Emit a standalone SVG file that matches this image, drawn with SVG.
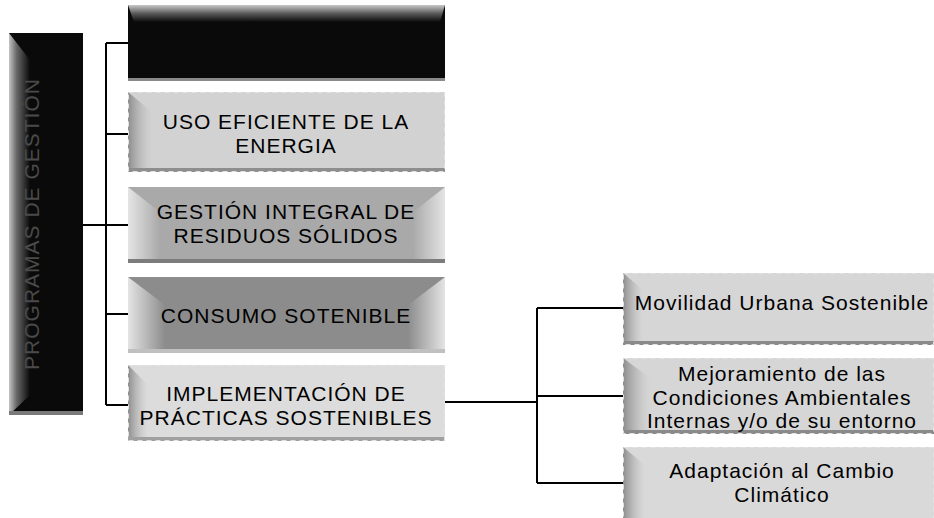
<svg xmlns="http://www.w3.org/2000/svg" width="934" height="518" viewBox="0 0 934 518">
  <defs>
    <style>
      .t { font-family: "Liberation Sans", Arial, sans-serif; font-size: 21px; letter-spacing: 1px; fill: #000; text-anchor: middle; }
      .conn { stroke: #000; stroke-width: 2; fill: none; }
      .edge { fill: none; stroke: #e2e2e2; stroke-width: 1; stroke-dasharray: 5 4; }
    </style>
    <linearGradient id="gLeftDark" x1="0" y1="0" x2="1" y2="0">
      <stop offset="0" stop-color="#c4c4c4"/>
      <stop offset="0.35" stop-color="#6a6a6a"/>
      <stop offset="1" stop-color="#0a0a0a"/>
    </linearGradient>
    <linearGradient id="gTopDark" x1="0" y1="0" x2="0" y2="1">
      <stop offset="0" stop-color="#c8c8c8"/>
      <stop offset="0.5" stop-color="#5a5a5a"/>
      <stop offset="1" stop-color="#0a0a0a"/>
    </linearGradient>
    <linearGradient id="gWedgeL" x1="0" y1="0" x2="1" y2="0">
      <stop offset="0" stop-color="#8c8c8c"/>
      <stop offset="1" stop-color="#bdbdbd" stop-opacity="0"/>
    </linearGradient>
    <linearGradient id="gWedgeLight" x1="0" y1="0" x2="1" y2="0">
      <stop offset="0" stop-color="#e4e4e4"/>
      <stop offset="1" stop-color="#e4e4e4" stop-opacity="0"/>
    </linearGradient>
    <linearGradient id="gWedgeLightR" x1="1" y1="0" x2="0" y2="0">
      <stop offset="0" stop-color="#e4e4e4"/>
      <stop offset="1" stop-color="#e4e4e4" stop-opacity="0"/>
    </linearGradient>
  </defs>

  <!-- Left vertical node -->
  <g id="node-programas">
    <rect x="9" y="33" width="74" height="382" fill="#0a0a0a"/>
    <polygon points="9,33 30,60 30,395 9,415" fill="url(#gLeftDark)"/>
    <rect x="9" y="411" width="74" height="4" fill="#7a7a7a"/>
    <text class="t" transform="translate(39,224) rotate(-90)" style="fill:#4a4a4a">PROGRAMAS DE GESTIÓN</text>
  </g>

  <!-- Top black node -->
  <g id="node-top">
    <rect x="128" y="5" width="317" height="76" fill="#0a0a0a"/>
    <polygon points="128,5 445,5 440,22 134,22" fill="url(#gTopDark)"/>
    <rect x="128" y="78" width="317" height="3" fill="#8a8a8a"/>
  </g>

  <g id="node-uso">
    <rect x="128" y="92" width="317" height="80" fill="#d2d2d2"/>
    <polygon points="128,92 152,112 152,168 128,172" fill="url(#gWedgeL)"/>
    <rect x="128" y="168" width="317" height="4" fill="#8e8e8e"/>
    <rect class="edge" x="128.5" y="92.5" width="316" height="79"/>
    <text class="t" x="286" y="129">USO EFICIENTE DE LA</text>
    <text class="t" x="286" y="152.5">ENERGIA</text>
  </g>

  <g id="node-gestion">
    <rect x="128" y="187" width="317" height="76" fill="#a9a9a9"/>
    <polygon points="128,187 160,212 160,258 128,263" fill="url(#gWedgeLight)"/>
    <polygon points="445,187 413,212 413,258 445,263" fill="url(#gWedgeLightR)"/>
    <rect x="128" y="259" width="317" height="4" fill="#7c7c7c"/>
    <text class="t" x="286" y="219">GESTIÓN INTEGRAL DE</text>
    <text class="t" x="286" y="242.5">RESIDUOS SÓLIDOS</text>
  </g>

  <g id="node-consumo">
    <rect x="128" y="277" width="317" height="76" fill="#8c8c8c"/>
    <polygon points="128,277 165,305 165,348 128,353" fill="url(#gWedgeLight)"/>
    <polygon points="445,277 408,305 408,348 445,353" fill="url(#gWedgeLightR)"/>
    <rect x="128" y="349" width="317" height="4" fill="#c0c0c0"/>
    <text class="t" x="286" y="323">CONSUMO SOTENIBLE</text>
  </g>

  <g id="node-implementacion">
    <rect x="128" y="365" width="317" height="76" fill="#dcdcdc"/>
    <polygon points="128,365 148,385 148,437 128,441" fill="url(#gWedgeL)"/>
    <rect x="128" y="437" width="317" height="4" fill="#a0a0a0"/>
    <rect class="edge" x="128.5" y="365.5" width="316" height="75"/>
    <text class="t" x="286" y="401">IMPLEMENTACIÓN DE</text>
    <text class="t" x="286" y="424.5">PRÁCTICAS SOSTENIBLES</text>
  </g>

  <g id="node-movilidad">
    <rect x="623" y="273" width="311" height="72" fill="#d6d6d6"/>
    <polygon points="623,273 643,290 643,340 623,345" fill="url(#gWedgeL)"/>
    <rect x="623" y="341" width="311" height="4" fill="#8a8a8a"/>
    <rect class="edge" x="623.5" y="273.5" width="310" height="71"/>
    <text class="t" x="782" y="310">Movilidad Urbana Sostenible</text>
  </g>

  <g id="node-mejoramiento">
    <rect x="623" y="358" width="311" height="76" fill="#d6d6d6"/>
    <polygon points="623,358 650,378 650,430 623,434" fill="url(#gWedgeL)"/>
    <rect x="623" y="430" width="311" height="4" fill="#8a8a8a"/>
    <rect class="edge" x="623.5" y="358.5" width="310" height="75"/>
    <text class="t" x="782" y="381">Mejoramiento de las</text>
    <text class="t" x="782" y="404.5">Condiciones Ambientales</text>
    <text class="t" x="782" y="428">Internas y/o de su entorno</text>
  </g>

  <g id="node-adaptacion">
    <rect x="623" y="447" width="311" height="71" fill="#d9d9d9"/>
    <polygon points="623,447 645,465 645,518 623,518" fill="url(#gWedgeL)"/>
    <rect class="edge" x="623.5" y="447.5" width="310" height="80"/>
    <text class="t" x="782" y="478">Adaptación al Cambio</text>
    <text class="t" x="782" y="501.5">Climático</text>
  </g>

  <g id="connectors">
    <path class="conn" d="M106,43 V405"/>
    <path class="conn" d="M106,43 H128"/>
    <path class="conn" d="M106,134 H128"/>
    <path class="conn" d="M83,225 H128"/>
    <path class="conn" d="M106,314 H128"/>
    <path class="conn" d="M106,405 H128"/>
    <path class="conn" d="M445,402 H537"/>
    <path class="conn" d="M537,308 V483"/>
    <path class="conn" d="M537,308 H623"/>
    <path class="conn" d="M537,396 H623"/>
    <path class="conn" d="M537,483 H623"/>
  </g>
</svg>
